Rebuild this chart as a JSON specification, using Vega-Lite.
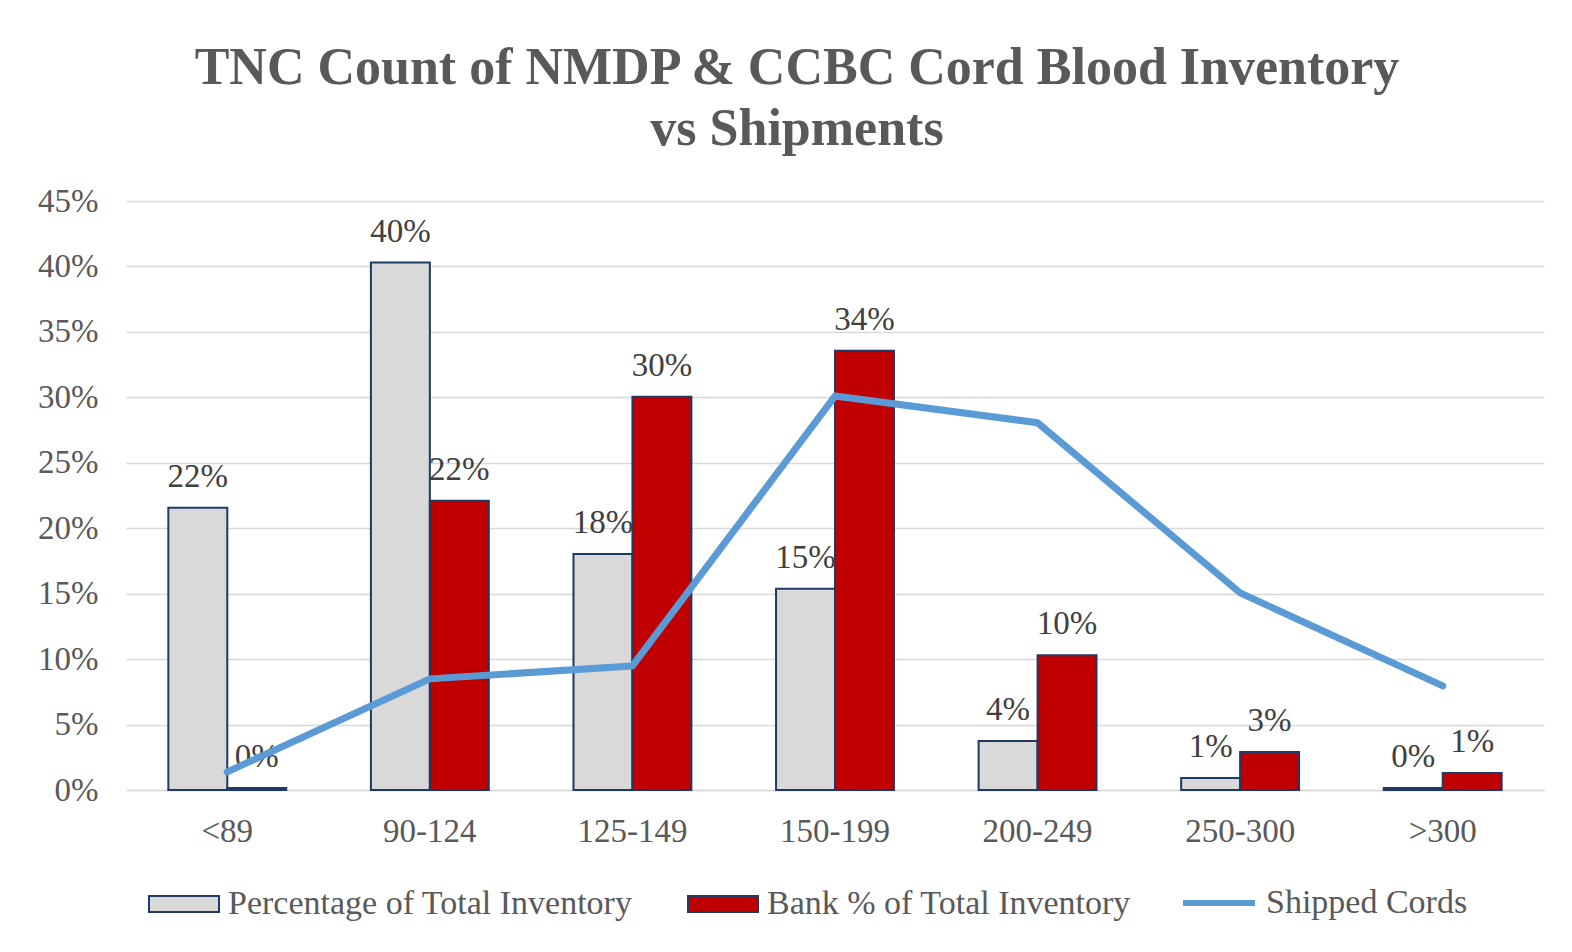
{
  "$schema": "https://vega.github.io/schema/vega-lite/v6.json",
  "autosize": {"type": "none"},
  "width": 1418,
  "height": 589,
  "padding": {"left": 126, "top": 201, "right": 28, "bottom": 162},
  "background": "white",
  "title": {
    "text": ["TNC Count of NMDP & CCBC Cord Blood Inventory", "vs Shipments"],
    "font": "Liberation Serif",
    "fontSize": 52,
    "fontWeight": "bold",
    "color": "#595959",
    "lineHeight": 61,
    "anchor": "middle",
    "dx": -38,
    "offset": 29
  },
  "config": {
    "view": {"stroke": null},
    "font": "Liberation Serif",
    "axis": {"labelFont": "Liberation Serif", "labelFontSize": 33, "labelColor": "#595959"}
  },
  "data": {
    "values": [
      {"category": "<89", "series": "Percentage of Total Inventory", "value": 0.2156},
      {"category": "90-124", "series": "Percentage of Total Inventory", "value": 0.403},
      {"category": "125-149", "series": "Percentage of Total Inventory", "value": 0.1804},
      {"category": "150-199", "series": "Percentage of Total Inventory", "value": 0.1537},
      {"category": "200-249", "series": "Percentage of Total Inventory", "value": 0.0375},
      {"category": "250-300", "series": "Percentage of Total Inventory", "value": 0.0092},
      {"category": ">300", "series": "Percentage of Total Inventory", "value": 0.0015},
      {"category": "<89", "series": "Bank % of Total Inventory", "value": 0.0015},
      {"category": "90-124", "series": "Bank % of Total Inventory", "value": 0.221},
      {"category": "125-149", "series": "Bank % of Total Inventory", "value": 0.3005},
      {"category": "150-199", "series": "Bank % of Total Inventory", "value": 0.3356},
      {"category": "200-249", "series": "Bank % of Total Inventory", "value": 0.103},
      {"category": "250-300", "series": "Bank % of Total Inventory", "value": 0.029},
      {"category": ">300", "series": "Bank % of Total Inventory", "value": 0.013},
      {"category": "<89", "series": "Shipped Cords", "value": 0.0138},
      {"category": "90-124", "series": "Shipped Cords", "value": 0.0849},
      {"category": "125-149", "series": "Shipped Cords", "value": 0.0948},
      {"category": "150-199", "series": "Shipped Cords", "value": 0.301},
      {"category": "200-249", "series": "Shipped Cords", "value": 0.2806},
      {"category": "250-300", "series": "Shipped Cords", "value": 0.1506},
      {"category": ">300", "series": "Shipped Cords", "value": 0.0795}
    ]
  },
  "encoding": {
    "x": {
      "field": "category",
      "type": "nominal",
      "sort": ["<89", "90-124", "125-149", "150-199", "200-249", "250-300", ">300"],
      "scale": {"paddingInner": 0.418, "paddingOuter": 0.209},
      "axis": {
        "title": null,
        "labelAngle": 0,
        "ticks": false,
        "domain": true,
        "domainColor": "#D9D9D9",
        "domainWidth": 1.5,
        "labelPadding": 25
      }
    },
    "y": {
      "field": "value",
      "type": "quantitative",
      "scale": {"domain": [0, 0.45], "nice": false},
      "axis": {
        "title": null,
        "values": [0, 0.05, 0.1, 0.15, 0.2, 0.25, 0.3, 0.35, 0.4, 0.45],
        "format": ".0%",
        "domain": false,
        "ticks": false,
        "grid": true,
        "gridColor": "#D9D9D9",
        "gridWidth": 1.5,
        "labelPadding": 28
      }
    }
  },
  "layer": [
    {
      "transform": [{"filter": "datum.series !== 'Shipped Cords'"}],
      "mark": {"type": "bar", "stroke": "#1F3864", "strokeWidth": 2},
      "encoding": {
        "xOffset": {
          "field": "series",
          "type": "nominal",
          "sort": ["Percentage of Total Inventory", "Bank % of Total Inventory"],
          "scale": {"domain": ["Percentage of Total Inventory", "Bank % of Total Inventory"], "paddingInner": 0, "paddingOuter": 0}
        },
        "fill": {
          "field": "series",
          "type": "nominal",
          "scale": {
            "domain": ["Percentage of Total Inventory", "Bank % of Total Inventory"],
            "range": ["#D9D9D9", "#C00000"]
          },
          "legend": {
            "title": null,
            "orient": "none",
            "legendX": 22,
            "legendY": 667,
            "direction": "horizontal",
            "labelFont": "Liberation Serif",
            "labelFontSize": 34,
            "labelColor": "#595959",
            "labelOffset": 8,
            "labelLimit": 0,
            "columnPadding": 51,
            "symbolSize": 4900,
            "symbolType": "M-1,-0.23H1V0.23H-1Z",
            "symbolStrokeColor": "#1F3864",
            "symbolStrokeWidth": 2
          }
        }
      }
    },
    {
      "transform": [{"filter": "datum.series !== 'Shipped Cords'"}],
      "mark": {"type": "text", "dy": -31, "font": "Liberation Serif", "fontSize": 33, "color": "#404040"},
      "encoding": {
        "xOffset": {
          "field": "series",
          "type": "nominal",
          "sort": ["Percentage of Total Inventory", "Bank % of Total Inventory"],
          "scale": {"domain": ["Percentage of Total Inventory", "Bank % of Total Inventory"], "paddingInner": 0, "paddingOuter": 0}
        },
        "text": {"field": "value", "type": "quantitative", "format": ".0%"}
      }
    },
    {
      "transform": [{"filter": "datum.series === 'Shipped Cords'"}],
      "mark": {"type": "line", "strokeWidth": 7, "strokeJoin": "round", "strokeCap": "round"},
      "encoding": {
        "stroke": {
          "field": "series",
          "type": "nominal",
          "scale": {"domain": ["Shipped Cords"], "range": ["#5B9BD5"]},
          "legend": {
            "title": null,
            "orient": "none",
            "legendX": 1054,
            "legendY": 663,
            "direction": "horizontal",
            "labelFont": "Liberation Serif",
            "labelFontSize": 34,
            "labelColor": "#595959",
            "labelOffset": 8,
            "labelLimit": 0,
            "symbolSize": 5184,
            "symbolType": "stroke",
            "symbolStrokeWidth": 6
          }
        }
      }
    }
  ]
}
